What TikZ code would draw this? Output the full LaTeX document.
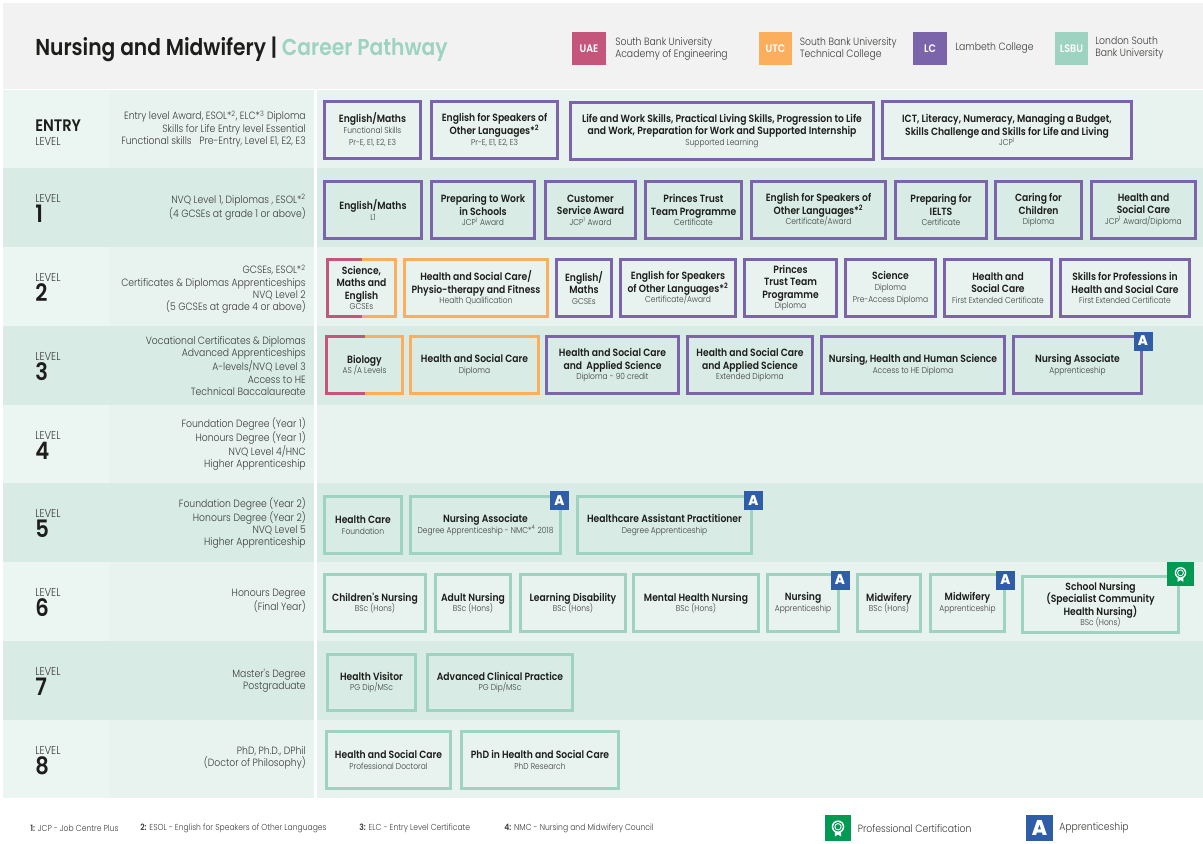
\documentclass[tikz,border=0pt]{standalone}
\usepackage{fontspec}
\setmainfont{Poppins}[FakeStretch=0.88]
\newfontfamily\lightf{Poppins Light}[FakeStretch=0.88]
\newfontfamily\medf{Poppins SemiBold}[FakeStretch=0.88]
\newfontfamily\heavyf{Poppins ExtraBold}[FakeStretch=0.95]
\definecolor{hdr}{HTML}{F2F2F2}
\definecolor{rowa}{HTML}{E8F3EF}
\definecolor{rowal}{HTML}{EBF5F2}
\definecolor{rowb}{HTML}{D8ECE5}
\definecolor{cpurple}{HTML}{7C64AB}
\definecolor{corange}{HTML}{FBAE5C}
\definecolor{cpink}{HTML}{C3567A}
\definecolor{cgreen}{HTML}{9DD3C0}
\definecolor{cblue}{HTML}{2F5DA8}
\definecolor{ccert}{HTML}{009A52}
\definecolor{ink}{HTML}{1D1D1B}
\definecolor{soft}{HTML}{3C3C3A}
\newcommand\tf{\medf\fontsize{7.85}{9.4}\selectfont\color{ink}}
\newcommand\sbf{\lightf\fontsize{6.4}{7.6}\selectfont\color{soft}}
\newcommand\lf{\lightf\fontsize{7.9}{9.2}\selectfont\color{soft}}
\tikzset{
 x=0.75pt,y=-0.75pt,
 box/.style={inner sep=0pt,outer sep=0pt,align=center,line width=2.6pt,font=\tf},
 band/.style={draw=none,inner sep=0pt,outer sep=0pt},
 quals/.style={anchor=east,align=right,inner sep=0pt,font=\lf},
 lvl/.style={anchor=west,inner sep=0pt,font=\lightf\fontsize{8.6}{9}\selectfont\color{soft}},
 num/.style={anchor=west,inner sep=0pt,font=\medf\fontsize{18}{20}\selectfont\color{ink}},
 keytext/.style={anchor=west,align=left,inner sep=0pt,font=\lf},
 keysq/.style={inner sep=0pt,outer sep=0pt,text=white,font=\medf\fontsize{8.2}{9}\selectfont},
 abadge/.style={fill=cblue,inner sep=0pt,outer sep=0pt,text=white,font=\heavyf\fontsize{10.5}{10}\selectfont},
 cbadge/.style={fill=ccert,inner sep=0pt,outer sep=0pt},
 foot/.style={anchor=west,inner sep=0pt,font=\lightf\fontsize{6.5}{7}\selectfont\color{soft}},
}
\newcommand\cbox[8]{%
 \pgfmathsetmacro\cxx{(#2+#4)/2}\pgfmathsetmacro\cyy{(#3+#5)/2}%
 \pgfmathsetmacro\ww{(#4-#2-3.4)*0.75}\pgfmathsetmacro\hh{(#5-#3-3.4)*0.75}%
 \node[box,draw=#6,minimum width=\ww pt,minimum height=\hh pt] (#1) at (\cxx,\cyy) {#7\\[-1.5pt]\sbf #8};}
\newcommand\dbox[7]{%
 \pgfmathsetmacro\cxx{(#2+#4)/2}\pgfmathsetmacro\cyy{(#3+#5)/2}%
 \pgfmathsetmacro\ww{(#4-#2-3.4)*0.75}\pgfmathsetmacro\hh{(#5-#3-3.4)*0.75}%
 \node[box,minimum width=\ww pt,minimum height=\hh pt] (#1) at (\cxx,\cyy) {#6\\[-1.5pt]\sbf #7};
 \draw[line width=2.6pt,corange] (#1.north) -| (#1.east) |- (#1.south);
 \draw[line width=2.6pt,cpink] (#1.north) -| (#1.west) |- (#1.south);}
\newcommand\abox[4]{\pgfmathsetmacro\ww{#4*0.75}\node[abadge,minimum size=\ww pt] (#1) at (#2,#3) {A};}
\newcommand\cicon[3]{%
 \begin{scope}[shift={(#1.center)},scale=#2]
  \fill[white] (-3.6,2) -- (-3.6,10) -- (0,7.6) -- (3.6,10) -- (3.6,2) -- cycle;
  \fill[white] (0,-1.5) circle (7.4);
  \fill[ccert] (0,-1.5) circle (5.7);
  \fill[white] (0,-1.5) circle (4.3);
  \fill[ccert] (0,-1.5) circle (3);
 \end{scope}}
\newcommand\rowlabel[7]{%
 \pgfmathsetmacro\ww{(314-3)*0.75}\pgfmathsetmacro\hh{(#3-#2)*0.75}\pgfmathsetmacro\cyy{(#2+#3)/2}%
 \node[band,fill=#4,minimum width=\ww pt,minimum height=\hh pt] (#1L) at (158.5,\cyy) {};
 \node[band,fill=#7,minimum width=80.25pt,minimum height=\hh pt] (#1S) at (56.5,\cyy) {};
 \pgfmathsetmacro\ww{(1203-317)*0.75}%
 \node[band,fill=#4,minimum width=\ww pt,minimum height=\hh pt] (#1R) at (760,\cyy) {};
 \pgfmathsetmacro\ya{#2+30}\pgfmathsetmacro\yb{#2+46}%
 \node[lvl] (#1lvl) at (35,\ya) {#5};
 \node[num] (#1num) at (35,\yb) {#6};}
\begin{document}
\begin{tikzpicture}
\useasboundingbox (0,0) rectangle (1203,843);
\fill[white] (0,0) rectangle (1203,843);
\node[band,fill=hdr,minimum width=900pt,minimum height=64.5pt,anchor=north west] (head) at (3,3) {};
\node[band,fill=rowa,minimum width=233.25pt,minimum height=58.5pt] (eL) at (158.5,129) {};
\node[band,fill=rowal,minimum width=80.25pt,minimum height=58.5pt] (eS) at (56.5,129) {};
\node[band,fill=rowa,minimum width=664.5pt,minimum height=58.5pt] (eR) at (760,129) {};
\rowlabel{a}{168}{247}{rowb}{LEVEL}{1}{rowb}
\rowlabel{b}{247}{326}{rowa}{LEVEL}{2}{rowal}
\rowlabel{c}{326}{405}{rowb}{LEVEL}{3}{rowb}
\rowlabel{d}{405}{483}{rowa}{LEVEL}{4}{rowal}
\rowlabel{f}{483}{562}{rowb}{LEVEL}{5}{rowb}
\rowlabel{g}{562}{641}{rowa}{LEVEL}{6}{rowal}
\rowlabel{h}{641}{720}{rowb}{LEVEL}{7}{rowb}
\rowlabel{i}{720}{798}{rowa}{LEVEL}{8}{rowal}
\node[anchor=west,inner sep=0pt,font=\medf\fontsize{17.25}{18}\selectfont] (title) at (35,49) {\color{ink}Nursing and Midwifery | \color{cgreen}Career Pathway};
\node[keysq,fill=cpink,minimum size=25pt] (kuae) at (589,48.5) {UAE};
\node[keytext] (tuae) at (615,49) {South Bank University\\Academy of Engineering};
\node[keysq,fill=corange,minimum size=25pt] (kutc) at (775.5,48.5) {UTC};
\node[keytext] (tutc) at (799.5,49) {South Bank University\\Technical College};
\node[keysq,fill=cpurple,minimum size=25pt] (klc) at (930,48.5) {LC};
\node[keytext] (tlc) at (955,48) {Lambeth College};
\node[keysq,fill=cgreen,minimum size=25pt] (klsbu) at (1071.5,48.5) {LSBU};
\node[keytext] (tlsbu) at (1095,48) {London South\\Bank University};
\node[inner sep=0pt,anchor=west,font=\medf\fontsize{12.5}{13}\selectfont\color{ink}] (eent) at (35,126) {ENTRY};
\node[lvl] (elvl) at (35,141) {LEVEL};
\node[quals] (qe) at (306,129) {Entry level Award, ESOL*\textsuperscript{2}, ELC*\textsuperscript{3} Diploma\\Skills for Life Entry level Essential\\Functional skills\ \ \ Pre-Entry, Level E1, E2, E3};
\node[quals] (q1) at (306,207) {NVQ Level 1, Diplomas , ESOL*\textsuperscript{2}\\(4 GCSEs at grade 1 or above)};
\node[quals] (q2) at (306,289) {GCSEs, ESOL*\textsuperscript{2}\\Certificates \& Diplomas Apprenticeships\\NVQ Level 2\\(5 GCSEs at grade 4 or above)};
\node[quals] (q3) at (306,366) {Vocational Certificates \& Diplomas\\Advanced Apprenticeships\\A-levels/NVQ Level 3\\Access to HE\\Technical Baccalaureate};
\node[quals] (q4) at (306,444) {Foundation Degree (Year 1)\\Honours Degree (Year 1)\\NVQ Level 4/HNC\\Higher Apprenticeship};
\node[quals] (q5) at (306,523) {Foundation Degree (Year 2)\\Honours Degree (Year 2)\\NVQ Level 5\\Higher Apprenticeship};
\node[quals] (q6) at (306,601) {Honours Degree\\(Final Year)};
\node[quals] (q7) at (306,681) {Master's Degree\\Postgraduate};
\node[quals] (q8) at (306,758) {PhD, Ph.D., DPhil\\(Doctor of Philosophy)};
\cbox{e1}{323}{100}{422}{160}{cpurple}{English/Maths}{Functional Skills\\\sbf Pr-E, E1, E2, E3}
\cbox{e2}{430}{100}{559}{160}{cpurple}{English for Speakers of\\Other Languages*\textsuperscript{2}}{Pr-E, E1, E2, E3}
\cbox{e3}{569}{101}{875}{161}{cpurple}{Life and Work Skills, Practical Living Skills, Progression to Life\\and Work, Preparation for Work and Supported Internship}{Supported Learning}
\cbox{e4}{881}{100}{1133}{160}{cpurple}{ICT, Literacy, Numeracy, Managing a Budget,\\Skills Challenge and Skills for Life and Living}{JCP\textsuperscript{1}}
\cbox{a1}{323}{180}{423}{240}{cpurple}{English/Maths}{L1}
\cbox{a2}{430}{180}{536}{240}{cpurple}{Preparing to Work\\in Schools}{JCP\textsuperscript{1} Award}
\cbox{a3}{544}{180}{637}{240}{cpurple}{Customer\\Service Award}{JCP\textsuperscript{1} Award}
\cbox{a4}{644}{180}{743}{240}{cpurple}{Princes Trust\\Team Programme}{Certificate}
\cbox{a5}{750}{180}{887}{240}{cpurple}{English for Speakers of\\Other Languages*\textsuperscript{2}}{Certificate/Award}
\cbox{a6}{894}{180}{988}{240}{cpurple}{Preparing for\\IELTS}{Certificate}
\cbox{a7}{994}{180}{1083}{240}{cpurple}{Caring for\\Children}{Diploma}
\cbox{a8}{1090}{180}{1197}{240}{cpurple}{Health and\\Social Care}{JCP\textsuperscript{1} Award/Diploma}
\dbox{b1}{326}{258}{397}{318}{Science,\\Maths and\\English}{GCSEs}
\cbox{b2}{403}{258}{549}{318}{corange}{Health and Social Care/\\Physio-therapy and Fitness}{Health Qualification}
\cbox{b3}{555}{258}{613}{318}{cpurple}{English/\\Maths}{GCSEs}
\cbox{b4}{619}{258}{737}{318}{cpurple}{English for Speakers\\of Other Languages*\textsuperscript{2}}{Certificate/Award}
\cbox{b5}{743}{258}{838}{318}{cpurple}{Princes\\Trust Team\\Programme}{Diploma}
\cbox{b6}{844}{258}{937}{318}{cpurple}{Science}{Diploma\\\sbf Pre-Access Diploma}
\cbox{b7}{943}{258}{1053}{318}{cpurple}{Health and\\Social Care}{First Extended Certificate}
\cbox{b8}{1059}{258}{1191}{318}{cpurple}{Skills for Professions in\\Health and Social Care}{First Extended Certificate}
\dbox{c1}{325}{335}{404}{395}{Biology}{AS /A Levels}
\cbox{c2}{409}{335}{540}{395}{corange}{Health and Social Care}{Diploma}
\cbox{c3}{545}{335}{680}{395}{cpurple}{Health and Social Care\\and\ \ Applied Science}{Diploma - 90 credit}
\cbox{c4}{686}{335}{814}{395}{cpurple}{Health and Social Care\\and Applied Science}{Extended Diploma}
\cbox{c5}{820}{335}{1006}{395}{cpurple}{Nursing, Health and Human Science}{Access to HE Diploma}
\cbox{c6}{1012}{335}{1143}{395}{cpurple}{Nursing Associate}{Apprenticeship}
\abox{ac6}{1143}{341}{19}
\cbox{f1}{323}{495}{403}{555}{cgreen}{Health Care}{Foundation}
\cbox{f2}{409}{495}{562}{555}{cgreen}{Nursing Associate}{Degree Apprenticeship - NMC*\textsuperscript{4} 2018}
\abox{af2}{559.5}{500.5}{19}
\cbox{f3}{576}{495}{753}{555}{cgreen}{Healthcare Assistant Practitioner}{Degree Apprenticeship}
\abox{af3}{753.5}{500.5}{19}
\cbox{g1}{323}{573}{427}{633}{cgreen}{Children's Nursing}{BSc (Hons)}
\cbox{g2}{434}{573}{512}{633}{cgreen}{Adult Nursing}{BSc (Hons)}
\cbox{g3}{519}{573}{627}{633}{cgreen}{Learning Disability}{BSc (Hons)}
\cbox{g4}{632}{573}{760}{633}{cgreen}{Mental Health Nursing}{BSc (Hons)}
\cbox{g5}{766}{573}{840}{633}{cgreen}{Nursing}{Apprenticeship}
\abox{ag5}{840}{580}{19}
\cbox{g6}{856}{573}{922}{633}{cgreen}{Midwifery}{BSc (Hons)}
\cbox{g7}{929}{573}{1006}{633}{cgreen}{Midwifery}{Apprenticeship}
\abox{ag7}{1005.5}{580}{19}
\cbox{g8}{1021}{575}{1180}{634}{cgreen}{School Nursing\\(Specialist Community\\Health Nursing)}{BSc (Hons)}
\node[cbadge,minimum width=20pt,minimum height=18pt] (cg8) at (1180.5,574) {};
\cicon{cg8}{0.78}{}
\cbox{h1}{326}{653}{417}{712}{cgreen}{Health Visitor}{PG Dip/MSc}
\cbox{h2}{426}{653}{574}{712}{cgreen}{Advanced Clinical Practice}{PG Dip/MSc}
\cbox{i1}{325}{730}{452}{790}{cgreen}{Health and Social Care}{Professional Doctoral}
\cbox{i2}{460}{730}{620}{790}{cgreen}{PhD in Health and Social Care}{PhD Research}
\node[foot] (n1) at (30,828) {{\medf 1:} JCP - Job Centre Plus};
\node[foot] (n2) at (140,828) {{\medf 2:} ESOL - English for Speakers of Other Languages};
\node[foot] (n3) at (359,828) {{\medf 3:} ELC - Entry Level Certificate};
\node[foot] (n4) at (504,828) {{\medf 4:} NMC - Nursing and Midwifery Council};
\node[cbadge,minimum size=20pt] (lc) at (838,828) {};
\cicon{lc}{0.85}{}
\node[keytext,font=\lightf\fontsize{7.9}{8}\selectfont\color{soft}] (lct) at (857.5,828.5) {Professional Certification};
\node[abadge,minimum size=20pt,font=\heavyf\fontsize{16}{16}\selectfont] (la) at (1039.5,828) {A};
\node[keytext,font=\lightf\fontsize{7.9}{8}\selectfont\color{soft}] (lat) at (1059,828) {Apprenticeship};
\end{tikzpicture}
\end{document}
